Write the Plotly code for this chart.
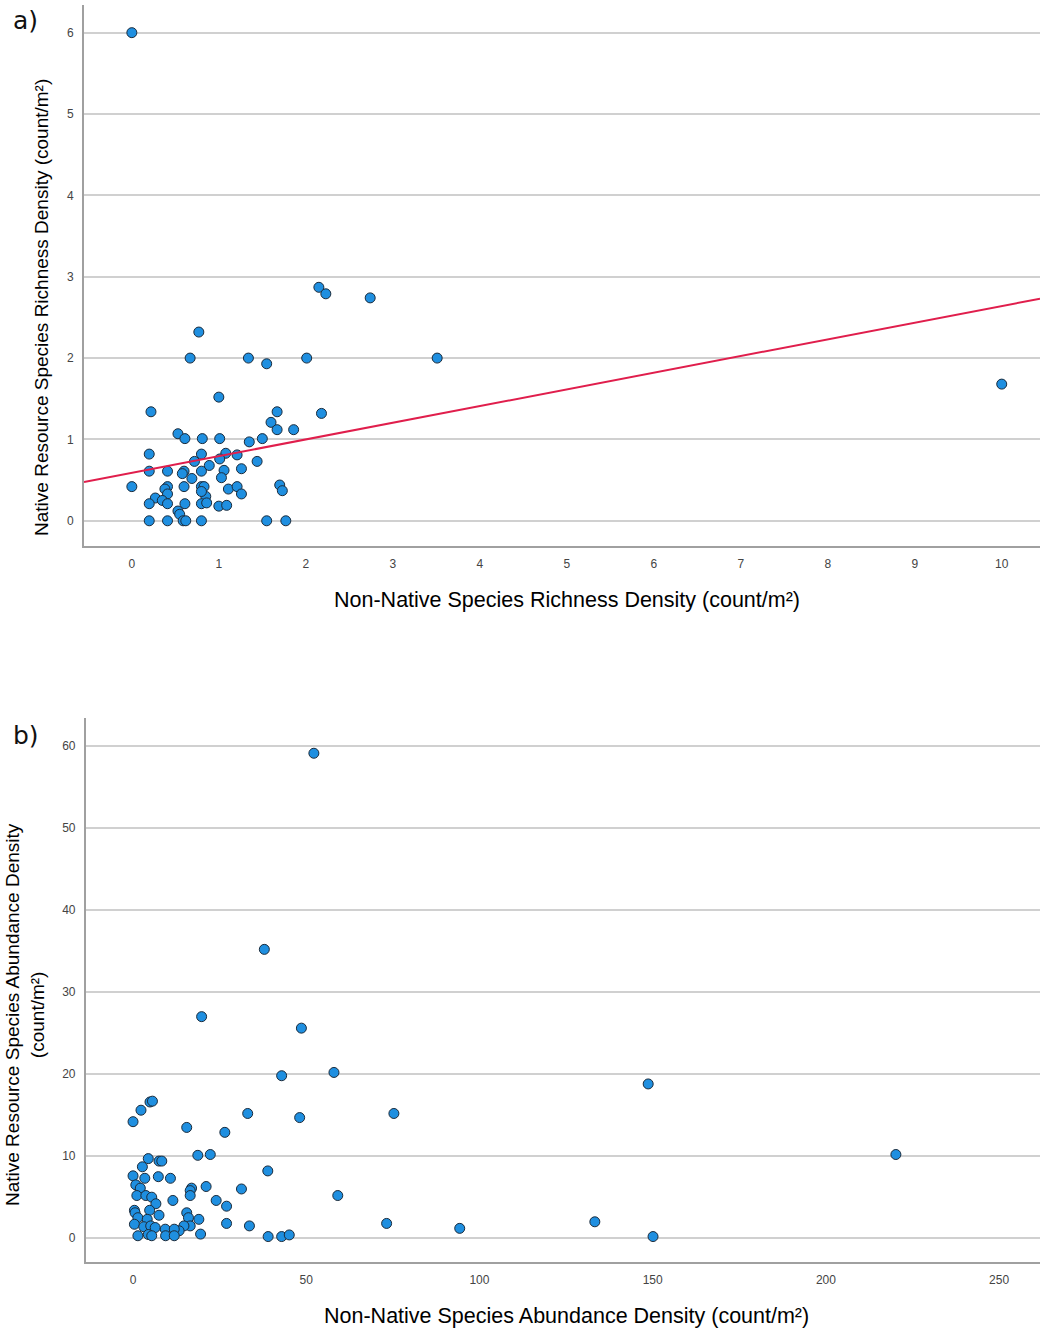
import plotly.graph_objects as go

# ---------------- data ----------------
# Panel a: richness density
rich_x = [0, 10.0, 3.51, 2.74, 2.15, 2.23, 2.01, 0.77, 0.67, 1.34, 1.55,
          1.0, 0.22, 1.67, 2.18, 1.60, 1.67, 1.86, 0.53, 0.61, 0.81, 1.01, 1.35, 1.50,
          0.20, 0.80, 1.08, 1.21, 1.01, 0.72, 0.89, 1.44,
          0.20, 0.41, 0.60, 0.58, 0.80, 1.06, 1.26, 0.69, 1.03,
          0.0, 0.41, 0.38, 0.60, 0.80, 0.83, 1.11, 1.21, 1.70, 1.73, 1.26, 0.41, 0.85, 0.80,
          0.27, 0.35, 0.20, 0.41, 0.61, 0.80, 0.86, 1.0, 1.09, 0.53, 0.55,
          0.20, 0.41, 0.59, 0.62, 0.80, 1.55, 1.77]
rich_y = [6.0, 1.68, 2.0, 2.74, 2.87, 2.79, 2.0, 2.32, 2.0, 2.0, 1.93,
          1.52, 1.34, 1.34, 1.32, 1.21, 1.12, 1.12, 1.07, 1.01, 1.01, 1.01, 0.97, 1.01,
          0.82, 0.82, 0.83, 0.81, 0.76, 0.73, 0.68, 0.73,
          0.61, 0.61, 0.61, 0.58, 0.61, 0.62, 0.64, 0.52, 0.53,
          0.42, 0.42, 0.39, 0.42, 0.42, 0.42, 0.39, 0.42, 0.44, 0.37, 0.33, 0.33, 0.30, 0.36,
          0.28, 0.25, 0.21, 0.21, 0.21, 0.21, 0.22, 0.18, 0.19, 0.12, 0.08,
          0, 0, 0, 0, 0, 0, 0]
fit_intercept = 0.59
fit_slope = 0.205

# Panel b: abundance density
abund_x = [52.2, 37.9, 19.8, 48.6, 42.9, 58.0, 148.7, 33.1, 48.1, 75.3, 15.5, 26.5, 220.2, 18.7, 22.3, 38.9,
           4.9, 5.6, 2.3, 0.0, 4.4, 7.5, 8.3, 2.7, 0.0, 3.4, 7.3, 10.8, 0.8, 2.1, 1.1, 3.7, 5.4, 6.6, 11.5,
           16.9, 16.5, 16.5, 21.1, 31.3, 59.1, 24.0, 27.0,
           0.4, 0.6, 4.8, 7.5, 1.4, 4.1, 0.4, 3.1, 5.1, 6.4,
           15.5, 16.0, 19.0, 16.5, 14.7, 13.3, 9.3, 11.9, 27.0, 33.6, 73.2, 94.3, 133.3,
           1.4, 4.4, 5.4, 9.4, 11.9, 19.5, 39.0, 42.9, 45.1, 150.1]
abund_y = [59.1, 35.2, 27.0, 25.6, 19.8, 20.2, 18.8, 15.2, 14.7, 15.2, 13.5, 12.9, 10.2, 10.1, 10.2, 8.2,
           16.6, 16.7, 15.6, 14.2, 9.7, 9.4, 9.4, 8.7, 7.6, 7.3, 7.5, 7.3, 6.5, 6.1, 5.2, 5.2, 5.0, 4.2, 4.6,
           6.1, 5.8, 5.2, 6.3, 6.0, 5.2, 4.6, 3.9,
           3.4, 3.1, 3.4, 2.8, 2.5, 2.3, 1.7, 1.4, 1.5, 1.3,
           3.1, 2.5, 2.3, 1.5, 1.5, 0.9, 1.1, 1.1, 1.8, 1.5, 1.8, 1.2, 2.0,
           0.3, 0.45, 0.3, 0.3, 0.3, 0.5, 0.2, 0.2, 0.4, 0.2]

rich_ticks = [0, 1, 2, 3, 4, 5, 6, 7, 8, 9, 10]
rich_yticks = [0, 1, 2, 3, 4, 5, 6]
abund_ticks = [0, 50, 100, 150, 200, 250]
abund_yticks = [0, 10, 20, 30, 40, 50, 60]

# ---------------- style ----------------
pt_fill = "#1f8fe0"
pt_line = "#1b2b3b"
fit_color = "#e01e4c"
axis_col = "#a0a0a0"
grid_col = "#d0d0d0"
tick_font = dict(family="Liberation Sans, Arial", size=12, color="#444444")
xtitle_font = dict(family="Liberation Sans, Arial", size=21.5, color="#000000")
ytitle_font = dict(family="Liberation Sans, Arial", size=19, color="#000000")

xa_range = [-0.55, 10.44]
ya_range = [-0.31, 6.34]
xb_range = [-13.6, 261.8]
yb_range = [-2.9, 63.4]

fig = go.Figure()

fig.add_trace(go.Scatter(
    x=rich_x, y=rich_y, mode="markers", xaxis="x", yaxis="y",
    marker=dict(size=10, color=pt_fill, line=dict(color=pt_line, width=1)),
    showlegend=False))

fit_x = xa_range
fit_y = [fit_intercept + fit_slope * v for v in fit_x]
fig.add_trace(go.Scatter(
    x=fit_x, y=fit_y, mode="lines", xaxis="x", yaxis="y",
    line=dict(color=fit_color, width=2), showlegend=False))

fig.add_trace(go.Scatter(
    x=abund_x, y=abund_y, mode="markers", xaxis="x2", yaxis="y2",
    marker=dict(size=10, color=pt_fill, line=dict(color=pt_line, width=1)),
    showlegend=False))

ax_common = dict(showline=True, linecolor=axis_col, linewidth=2, zeroline=False,
                 ticks="", tickfont=tick_font)

fig.update_layout(
    width=1040, height=1330,
    margin=dict(l=84, r=0, t=5, b=68),
    paper_bgcolor="white", plot_bgcolor="white",
    xaxis=dict(domain=[0, 1], range=xa_range, tickvals=rich_ticks, showgrid=False,
               anchor="y", ticklabelstandoff=6, **ax_common),
    yaxis=dict(domain=[0.5696, 1], range=ya_range, tickvals=rich_yticks, showgrid=True,
               gridcolor=grid_col, gridwidth=1.5, anchor="x", ticklabelstandoff=6, **ax_common),
    xaxis2=dict(domain=[0.002, 1], range=xb_range, tickvals=abund_ticks, showgrid=False,
                anchor="y2", ticklabelstandoff=6, **ax_common),
    yaxis2=dict(domain=[0, 0.4328], range=yb_range, tickvals=abund_yticks, showgrid=True,
                gridcolor=grid_col, gridwidth=1.5, anchor="x2", ticklabelstandoff=6, **ax_common),
)

annots = [
    dict(text="a)", x=-0.0607, y=0.988, font=dict(family="DejaVu Sans", size=25, color="#111111")),
    dict(text="b)", x=-0.0607, y=0.419, font=dict(family="DejaVu Sans", size=25, color="#111111")),
    dict(text="Non-Native Species Richness Density (count/m²)", x=0.505, y=0.5267, font=xtitle_font),
    dict(text="Native Resource Species Richness Density (count/m²)", x=-0.0439, y=0.759,
         textangle=-90, font=ytitle_font),
    dict(text="Non-Native Species Abundance Density (count/m²)", x=0.505, y=-0.043, font=xtitle_font),
    dict(text="Native Resource Species Abundance Density<br>(count/m²)", x=-0.0617, y=0.1965,
         textangle=-90, font=ytitle_font),
]
for a in annots:
    fig.add_annotation(xref="paper", yref="paper", xanchor="center", yanchor="middle",
                       showarrow=False, **a)

fig.write_html("out.html")
